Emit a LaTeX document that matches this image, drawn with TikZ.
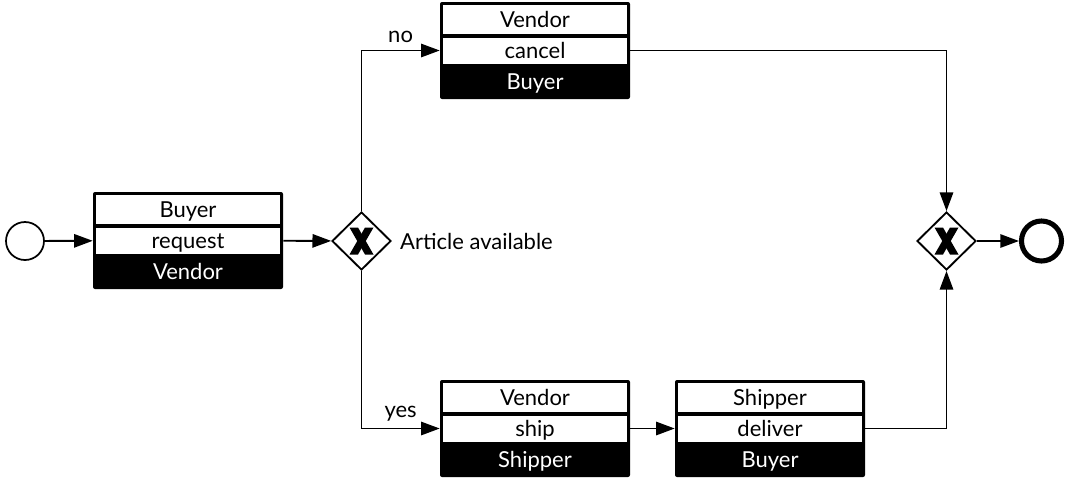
\documentclass[tikz,border=0pt]{standalone}
\usepackage{fontspec}
\setmainfont{Lato}
\usetikzlibrary{shapes.geometric,arrows.meta}
\tikzset{
  lbl/.style={inner sep=0pt, font=\fontsize{16.5pt}{19pt}\selectfont},
  bandlbl/.style={lbl, text height=0.7em, text depth=0.08em, yshift=-2.6pt},
  flow/.style={line width=1.4pt, -{Triangle[length=14pt,width=10pt]}},
  gateway/.style={diamond, draw, line width=1.4pt, fill=white, inner sep=0pt,
    minimum width=59*0.75pt, minimum height=58*0.75pt},
  startev/.style={circle, draw, line width=1.3pt, fill=white, inner sep=0pt, minimum size=38*0.75pt},
  endev/.style={circle, draw, line width=3.8pt, fill=white, inner sep=0pt, minimum size=40*0.75pt},
  edgelbl/.style={lbl, above=5pt}
}
\newcommand\taskbox[7]{% name, left, top, width, top text, mid text, bottom text
  \begin{scope}[shift={(#2,#3)}]
    \fill[black, rounded corners=1.5pt] (0,0) rectangle (#4,97);
    \fill[white] (3,3) rectangle (#4-3,32);
    \fill[white] (3,36) rectangle (#4-3,62);
    \node[inner sep=0pt, minimum width=#4*0.75pt, minimum height=97*0.75pt] (#1) at (#4/2,48.5) {};
    \node[bandlbl] (#1-top) at (#4/2,17.5) {#5};
    \node[bandlbl] (#1-mid) at (#4/2,49) {#6};
    \node[bandlbl, text=white] (#1-bot) at (#4/2,79.5) {#7};
  \end{scope}}
\newcommand\xmark[1]{%
  \fill (#1) ++(-12,-13.5) -- ++(8.5,0) -- ++(15.5,27) -- ++(-8.5,0) -- cycle;
  \fill (#1) ++(12,-13.5) -- ++(-8.5,0) -- ++(-15.5,27) -- ++(8.5,0) -- cycle;}
\begin{document}
\begin{tikzpicture}[x=0.75pt, y=-0.75pt]
  \useasboundingbox (0,0) rectangle (1066,479);
  \node[startev] (start) at (25,241) {};
  \taskbox{req}{93}{192}{190}{Buyer}{request}{Vendor}
  \taskbox{cancel}{440}{2}{190}{Vendor}{cancel}{Buyer}
  \taskbox{ship}{440}{380}{190}{Vendor}{ship}{Shipper}
  \taskbox{deliver}{675}{380}{190}{Shipper}{deliver}{Buyer}
  \node[gateway] (g1) at (361.5,241) {};
  \xmark{g1}
  \node[lbl, anchor=west] (avail) at ([xshift=6pt]g1.east) {Article available};
  \node[gateway] (g2) at (946.5,241) {};
  \xmark{g2}
  \node[endev] (end) at (1041.5,241) {};

  \draw[flow] (start) -- (req);
  \draw[flow] (req) -- (g1);
  \draw[flow] (g1.north) |- (cancel.west) node[edgelbl, pos=0.75] {no};
  \draw[flow] (g1.south) |- (ship.west) node[edgelbl, pos=0.75] {yes};
  \draw[flow] (ship) -- (deliver);
  \draw[flow] (deliver.east) -| (g2.south);
  \draw[flow] (cancel.east) -| (g2.north);
  \draw[flow] (g2) -- (end);
\end{tikzpicture}
\end{document}
